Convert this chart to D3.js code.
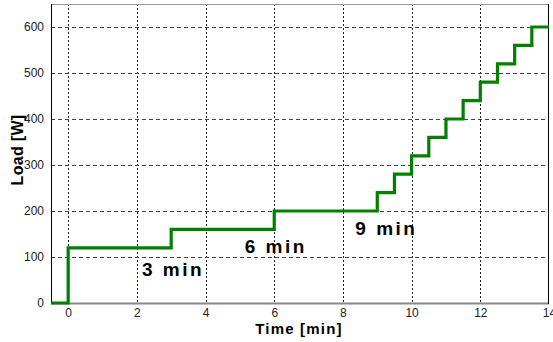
<!DOCTYPE html>
<html><head><meta charset="utf-8">
<script src="https://cdn.jsdelivr.net/npm/d3@7"></script>
<style>body{margin:0;background:#fff;overflow:hidden}</style>
</head><body>
<svg id="c" width="553" height="342"></svg>
<script>
const times = [-0.5, 0, 3, 6, 9, 9.5, 10, 10.5, 11, 11.5, 12, 12.5, 13, 13.5, 14];
const loads = [0, 120, 160, 200, 240, 280, 320, 360, 400, 440, 480, 520, 560, 600, 600];
const xTicks = [0, 2, 4, 6, 8, 10, 12, 14];
const yTicks = [0, 100, 200, 300, 400, 500, 600];
const annoText = ["3 min", "6 min", "9 min"];
const annoX = [2.15, 5.14, 8.36];
const annoY = [59, 108, 148];

const W = 553, H = 342, m = {l: 51, r: 4, t: 4, b: 39};
const svg = d3.select("#c");
const x = d3.scaleLinear().domain([-0.5, 14]).range([m.l, W - m.r]);
const y = d3.scaleLinear().domain([0, 650]).range([H - m.b, m.t]);

// grid
svg.append("g").selectAll("line").data(xTicks.filter(t => t < 14)).join("line")
  .attr("x1", d => Math.round(x(d)) + 0.5).attr("x2", d => Math.round(x(d)) + 0.5)
  .attr("y1", y(650)).attr("y2", y(0))
  .attr("stroke", "#222").attr("stroke-width", 1).attr("stroke-dasharray", "2,2");
svg.append("g").selectAll("line").data(yTicks.filter(t => t > 0)).join("line")
  .attr("x1", x(-0.5)).attr("x2", x(14))
  .attr("y1", d => Math.round(y(d)) + 0.5).attr("y2", d => Math.round(y(d)) + 0.5)
  .attr("stroke", "#444").attr("stroke-width", 1).attr("stroke-dasharray", "4,3");

// axes
const xAxis = d3.axisBottom(x).tickValues(xTicks).tickSize(0).tickPadding(5);
const gx = svg.append("g").attr("transform", `translate(0,${y(0)})`).call(xAxis);
gx.select(".domain").remove();
gx.selectAll("text").attr("font-family", "Liberation Sans, Arial, sans-serif").attr("font-size", 12).attr("fill", "#222");
const yAxis = d3.axisLeft(y).tickValues(yTicks).tickSize(0).tickPadding(7);
const gy = svg.append("g").attr("transform", `translate(${m.l},0)`).call(yAxis);
gy.select(".domain").remove();
gy.selectAll("text").attr("font-family", "Liberation Sans, Arial, sans-serif").attr("font-size", 12).attr("fill", "#222");

// frame
svg.append("line").attr("x1", x(-0.5)).attr("x2", x(14)).attr("y1", m.t + 0.5).attr("y2", m.t + 0.5).attr("stroke", "#999");
svg.append("line").attr("x1", x(-0.5)).attr("x2", x(14)).attr("y1", y(0) + 0.5).attr("y2", y(0) + 0.5).attr("stroke", "#888").attr("stroke-width", 2);
svg.append("line").attr("x1", m.l + 0.5).attr("x2", m.l + 0.5).attr("y1", m.t).attr("y2", y(0)).attr("stroke", "#000");
svg.append("line").attr("x1", W - m.r - 0.5).attr("x2", W - m.r - 0.5).attr("y1", m.t).attr("y2", y(0) + 1).attr("stroke", "#000");

// step line
const pts = times.map((t, i) => [t, loads[i]]);
svg.append("path").datum(pts)
  .attr("d", d3.line().x(d => x(d[0])).y(d => y(d[1])).curve(d3.curveStepAfter))
  .attr("fill", "none").attr("stroke", "#008000").attr("stroke-width", 3.2);

// annotations
svg.append("g").selectAll("text").data(annoText).join("text")
  .attr("x", (d, i) => x(annoX[i])).attr("y", (d, i) => y(annoY[i]))
  .attr("font-family", "Liberation Sans, Arial, sans-serif").attr("font-weight", "bold")
  .attr("font-size", 19).attr("letter-spacing", 2.5).attr("fill", "#000").text(d => d);

// axis titles
svg.append("text").attr("x", 299).attr("y", 334).attr("text-anchor", "middle")
  .attr("font-family", "Liberation Sans, Arial, sans-serif").attr("font-weight", "bold")
  .attr("font-size", 15).attr("letter-spacing", 1.2).text("Time [min]");
svg.append("text").attr("transform", "translate(23,150) rotate(-90)").attr("text-anchor", "middle")
  .attr("font-family", "Liberation Sans, Arial, sans-serif").attr("font-weight", "bold")
  .attr("font-size", 16).attr("letter-spacing", 0.3).text("Load [W]");
</script>
</body></html>
